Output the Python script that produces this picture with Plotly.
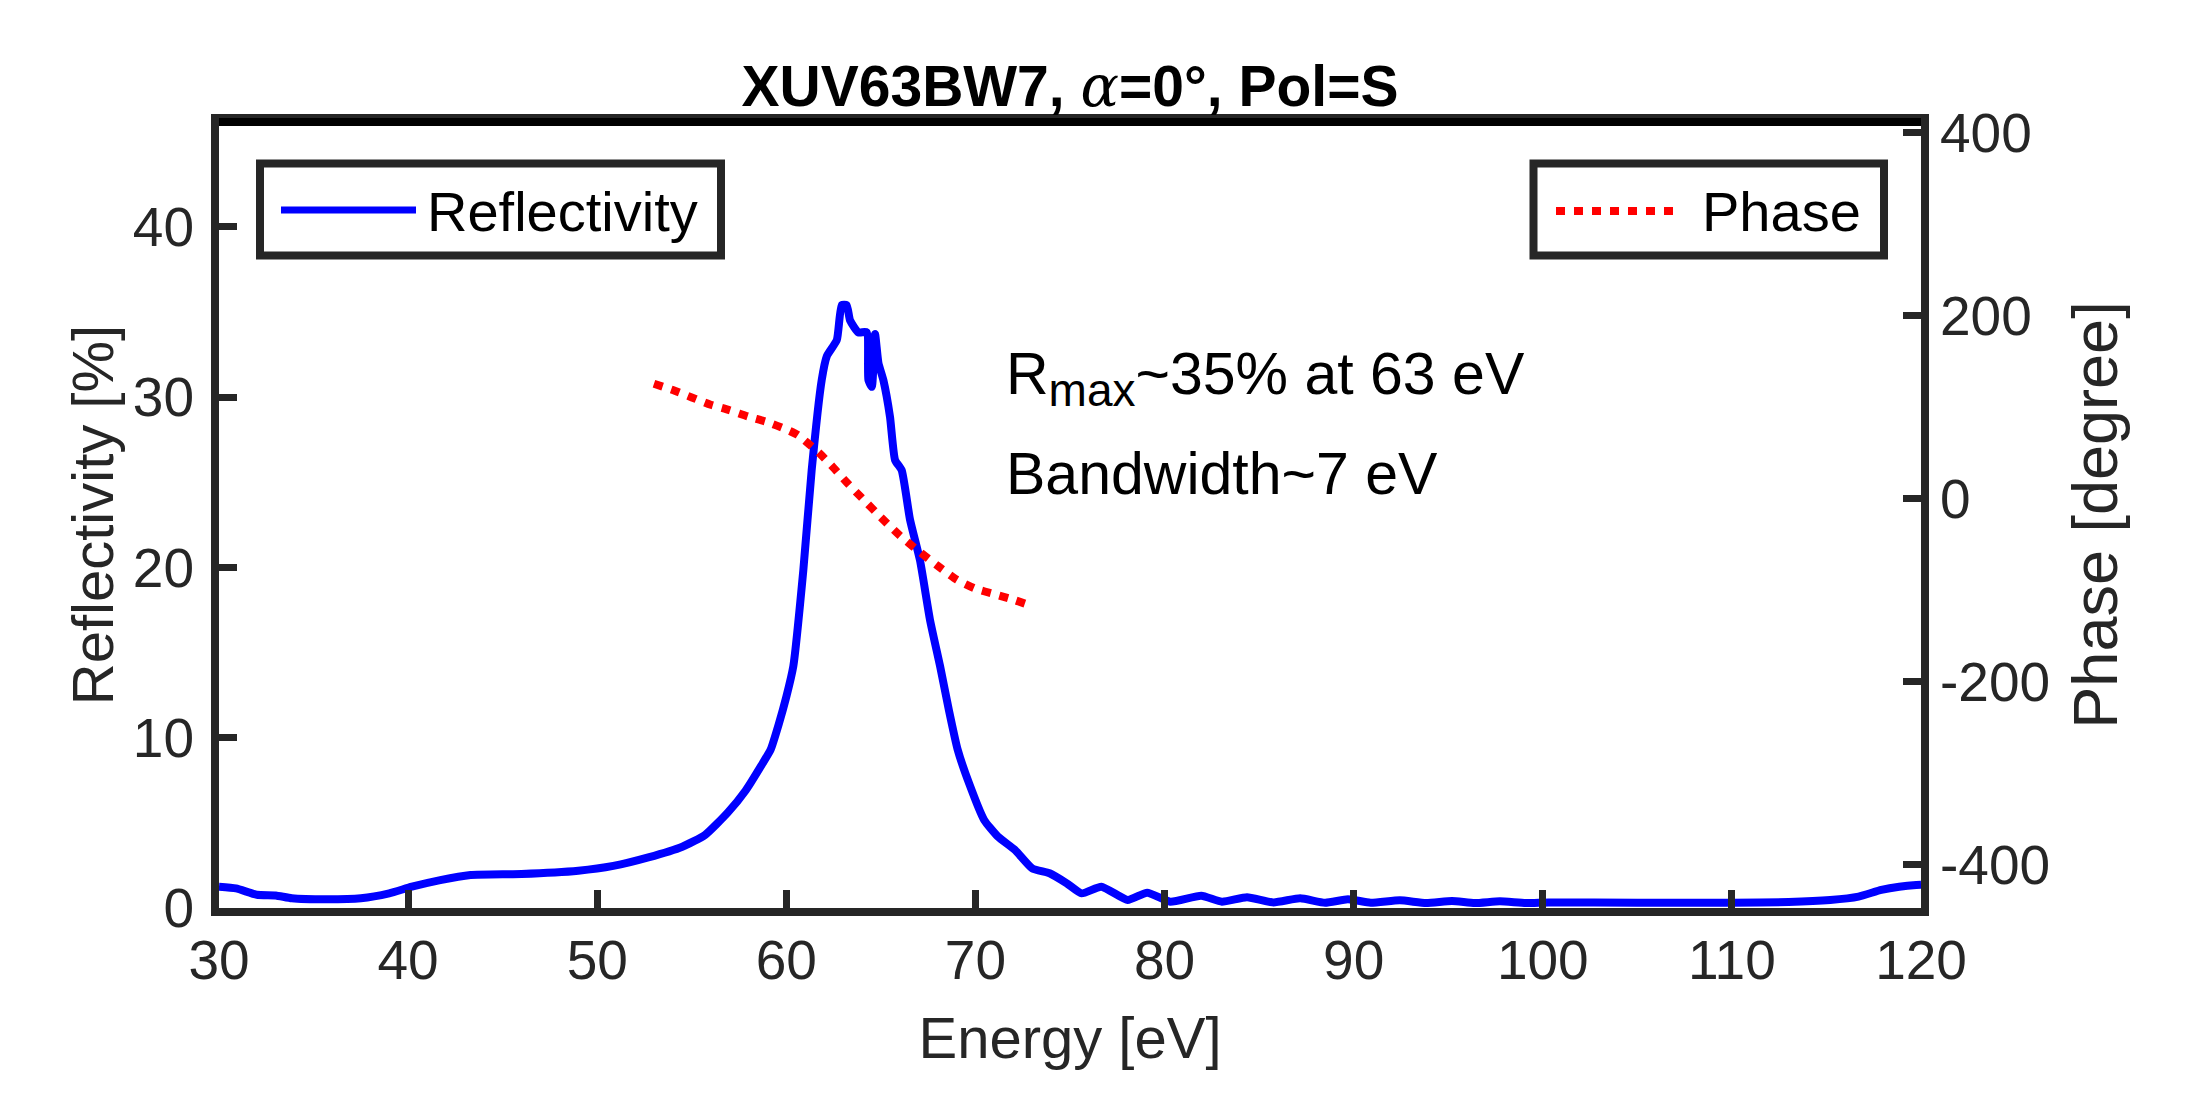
import plotly.graph_objects as go

# ---------------- data ----------------
energy_refl = [30.0, 30.9, 32.0, 33.0, 33.85, 35.7, 37.5, 39.0, 40.2, 41.7, 43.3, 46.0, 49.0,
               50.85, 52.7, 54.5, 55.7, 56.9, 57.85, 58.75, 59.17, 59.6, 60.0, 60.37, 60.9,
               61.34, 61.87, 62.14, 62.67, 62.93, 63.19, 63.37, 63.81, 64.25, 64.34, 64.52,
               64.69, 64.87, 65.13, 65.48, 65.75, 66.1, 66.54, 67.07, 67.6, 68.13, 68.6,
               69.06, 69.67, 70.46, 71.19, 72.1, 73.0, 73.92, 74.83, 75.62, 76.66, 78.05,
               79.08, 80.3, 81.94, 83.03, 84.36, 85.76, 87.17, 88.49, 89.7, 90.9, 92.44,
               93.83, 95.2, 96.4, 97.73, 99.1, 100.3, 105.0, 110.0, 113.0, 115.2, 116.7,
               117.9, 118.85, 119.75, 120.0]
reflectivity = [1.25, 1.15, 0.78, 0.74, 0.57, 0.51, 0.57, 0.86, 1.25, 1.64, 1.94, 2.0, 2.19,
                2.47, 2.97, 3.6, 4.29, 5.6, 6.9, 8.5, 9.3, 10.8, 12.4, 14.2, 19.85,
                25.7, 31.0, 32.4, 33.35, 35.4, 35.4, 34.5, 33.8, 33.8, 31.0, 30.6,
                33.7, 32.0, 31.0, 28.85, 26.3, 25.7, 22.8, 20.4, 16.9, 14.2, 11.6,
                9.3, 7.3, 5.17, 4.19, 3.4, 2.33, 2.04, 1.45, 0.86, 1.25, 0.47,
                0.9, 0.37, 0.72, 0.37, 0.63, 0.33, 0.57, 0.31, 0.51, 0.31, 0.45,
                0.29, 0.41, 0.29, 0.39, 0.29, 0.33, 0.31, 0.31, 0.35, 0.47, 0.67,
                1.06, 1.25, 1.35, 1.36]

energy_phase = [53.0, 54.0, 55.0, 56.0, 57.0, 58.0, 59.0, 60.0, 60.6, 61.2, 61.8, 62.5, 63.2,
                64.0, 65.0, 66.0, 67.0, 68.0, 69.0, 70.0, 71.0, 72.0, 72.7]
phase = [126, 119, 111, 103, 97, 90, 84, 76, 70, 60, 49, 34, 18,
         1, -20, -40, -57, -73, -88, -98, -104, -110, -115]

x_ticks = [30, 40, 50, 60, 70, 80, 90, 100, 110, 120]
y_left_ticks = [0, 10, 20, 30, 40]
y_right_ticks = [-400, -200, 0, 200, 400]
y_right_labels = ["-400", "-200", "0", "200", "400"]

# ---------------- style ----------------
FONT = "Liberation Sans, Arial, Helvetica, sans-serif"
AX = "#262626"
OFF = 8  # default page margin of the html body
W, H = 2187 - OFF, 1094 - OFF
# plot area in page pixels
PX0, PX1, PY0, PY1 = 219, 1921, 122, 908
L, T = PX0 - OFF, PY0 - OFF
R, B = W - (PX1 - OFF), H - (PY1 - OFF)
PW, PH = PX1 - PX0, PY1 - PY0


def px(xp):
    return (xp - PX0) / PW


def py(yp):
    return (PY1 - yp) / PH


fig = go.Figure()
fig.add_trace(go.Scatter(x=energy_refl, y=reflectivity, mode="lines", name="Reflectivity",
                         line=dict(color="#0000FF", width=8, shape="spline", smoothing=0.5),
                         yaxis="y", showlegend=False))
fig.add_trace(go.Scatter(x=energy_phase, y=phase, mode="lines", name="Phase",
                         line=dict(color="#FF0000", width=8, dash="9px,9px", shape="spline",
                                   smoothing=0.6),
                         yaxis="y2", showlegend=False))

axis_common = dict(ticks="inside", ticklen=18, tickwidth=7, tickcolor=AX, showline=True,
                   linewidth=8, linecolor=AX, showgrid=False, zeroline=False,
                   tickfont=dict(family=FONT, size=55, color=AX))

fig.update_layout(
    width=W, height=H,
    margin=dict(l=L, r=R, t=T, b=B, autoexpand=False),
    paper_bgcolor="white", plot_bgcolor="white",
    font=dict(family=FONT, color="black"),
    title=dict(text="XUV63BW7, <span style='font-family:DejaVu Serif;font-weight:normal'>"
                    "<i>α</i></span>=0°, Pol=S",
               font=dict(family=FONT, size=57, color="black", weight="bold"),
               x=0.5, xref="paper", xanchor="center",
               y=1 - (86 - OFF) / H, yref="container", yanchor="middle"),
    xaxis=dict(range=[30, 120], tickvals=x_ticks, mirror=True,
               title=dict(text="Energy [eV]", font=dict(family=FONT, size=58, color=AX),
                          standoff=30),
               ticklabelstandoff=-3,
               **axis_common),
    yaxis=dict(range=[0, 46.15], tickvals=y_left_ticks, ticklabelstandoff=6,
               title=dict(text="Reflectivity [%]", font=dict(family=FONT, size=58, color=AX),
                          standoff=4),
               **axis_common),
    yaxis2=dict(range=[-447, 412], tickvals=y_right_ticks, ticktext=y_right_labels,
                overlaying="y", side="right",
                title=dict(text="Phase [degree]", font=dict(family=FONT, size=63, color=AX),
                           standoff=27),
                **axis_common),
)

# black top frame line
fig.add_shape(type="line", xref="paper", yref="paper", x0=0, x1=1, y0=1, y1=1,
              line=dict(color="black", width=8), layer="above")

# legends (boxed, upper left and upper right)
box_line = dict(color=AX, width=8)
fig.add_shape(type="rect", xref="paper", yref="paper", x0=px(260), x1=px(721), y0=py(255.5),
              y1=py(163.5), line=box_line, fillcolor="white", layer="above")
fig.add_shape(type="line", xref="paper", yref="paper", x0=px(281), x1=px(416), y0=py(210),
              y1=py(210), line=dict(color="#0000FF", width=7), layer="above")
fig.add_annotation(text="Reflectivity", xref="paper", yref="paper", x=px(425), y=py(211),
                   xanchor="left", yanchor="middle", showarrow=False,
                   font=dict(family=FONT, size=56, color="black"))

fig.add_shape(type="rect", xref="paper", yref="paper", x0=px(1533.5), x1=px(1884), y0=py(255.5),
              y1=py(163.5), line=box_line, fillcolor="white", layer="above")
fig.add_shape(type="line", xref="paper", yref="paper", x0=px(1556), x1=px(1681), y0=py(211),
              y1=py(211), line=dict(color="#FF0000", width=8, dash="9px,9px"), layer="above")
fig.add_annotation(text="Phase", xref="paper", yref="paper", x=px(1700), y=py(211),
                   xanchor="left", yanchor="middle", showarrow=False,
                   font=dict(family=FONT, size=56, color="black"))

# text annotations
fig.add_annotation(text="R<sub><span style='font-size:46px'>max</span></sub>~35% at 63 eV",
                   x=71.5, y=31.1, xref="x", yref="y", xanchor="left", yanchor="middle",
                   showarrow=False, font=dict(family=FONT, size=59, color="black"))
fig.add_annotation(text="Bandwidth~7 eV",
                   x=71.5, y=25.5, xref="x", yref="y", xanchor="left", yanchor="middle",
                   showarrow=False, font=dict(family=FONT, size=59, color="black"))

fig.write_html("out.html")
